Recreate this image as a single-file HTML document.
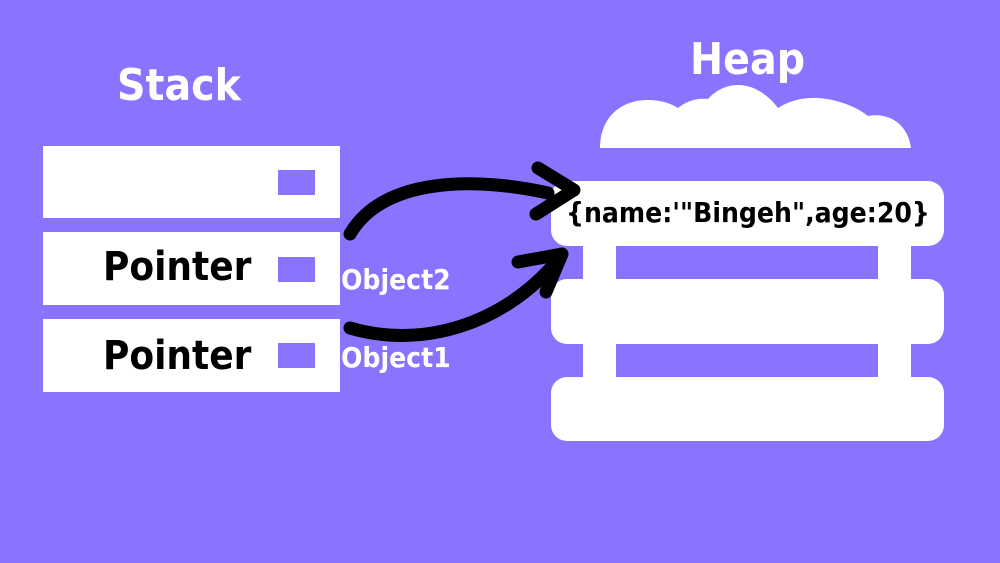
<html><head><style>
body{margin:0;width:1000px;height:563px;background:#8a73ff;position:relative;overflow:hidden;font-family:"DejaVu Sans Condensed","DejaVu Sans","Liberation Sans",sans-serif;font-stretch:condensed}
.r{position:absolute;background:#fff}
.p{position:absolute;background:#8a73ff}
.t{position:absolute;font-weight:bold;white-space:nowrap;line-height:1}
</style></head><body>
<div class="t" style="left:117px;top:64px;font-size:44px;color:#fff">Stack</div>
<div class="t" style="left:690px;top:38px;font-size:44px;color:#fff">Heap</div>
<div class="r" style="left:43px;top:146px;width:297px;height:72px"></div>
<div class="r" style="left:43px;top:232px;width:297px;height:73px"></div>
<div class="r" style="left:43px;top:319px;width:297px;height:73px"></div>
<div class="p" style="left:278px;top:170px;width:37px;height:25px"></div>
<div class="p" style="left:278px;top:257px;width:37px;height:25px"></div>
<div class="p" style="left:278px;top:343px;width:37px;height:25px"></div>
<div class="t" style="left:103px;top:247px;font-size:40px;color:#000">Pointer</div>
<div class="t" style="left:103px;top:336px;font-size:40px;color:#000">Pointer</div>
<div class="t" style="left:341px;top:266px;font-size:28px;color:#fff">Object2</div>
<div class="t" style="left:341px;top:344px;font-size:28px;color:#fff">Object1</div>
<div class="r" style="left:583px;top:240px;width:33px;height:150px"></div>
<div class="r" style="left:878px;top:240px;width:33px;height:150px"></div>
<div class="r" style="left:551px;top:181px;width:393px;height:65px;border-radius:16px"></div>
<div class="r" style="left:551px;top:279px;width:393px;height:65px;border-radius:16px"></div>
<div class="r" style="left:551px;top:377px;width:393px;height:64px;border-radius:16px"></div>
<div class="t" style="left:566px;top:199px;font-size:28px;color:#000">{name:'"Bingeh",age:20}</div>
<svg style="position:absolute;left:0;top:0" width="1000" height="563">
<g fill="#fff">
<path d="M600 148 C600 118 620 100 648 100 C662 100 672 104 678 108 C688 100 698 98 708 99 C725 80 755 78 778 108 C795 97 815 96 832 100 C850 104 860 110 868 116 C890 112 908 125 911 148 Z"/>
</g>
<path d="M350 234 C385 175 480 178 548 193" stroke="#000" stroke-width="13" fill="none" stroke-linecap="round"/>
<path d="M538 168 L574 190 L536 214" stroke="#000" stroke-width="13" fill="none" stroke-linejoin="round" stroke-linecap="round"/>
<path d="M350 328 C425 350 505 322 556 262" stroke="#000" stroke-width="13" fill="none" stroke-linecap="round"/>
<path d="M518 262 L562 254 L546 292" stroke="#000" stroke-width="13" fill="none" stroke-linejoin="round" stroke-linecap="round"/>
</svg>
</body></html>
